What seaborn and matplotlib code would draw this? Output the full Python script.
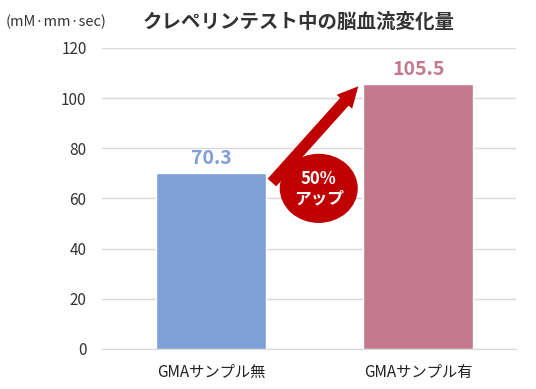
import seaborn as sns
import matplotlib.pyplot as plt
from matplotlib.patches import Ellipse

categories = ['GMAサンプル無', 'GMAサンプル有']
values = [70.3, 105.5]
bar_colors = ['#7F9FD7', '#C47A8E']
yticks = [0, 20, 40, 60, 80, 100, 120]

sns.set_style('white')
plt.rcParams['font.family'] = ['Noto Sans CJK JP', 'DejaVu Sans']

fig = plt.figure(figsize=(5.36, 3.89), dpi=100)
ax = fig.add_axes([0.190, 0.103, 0.773, 0.774])

sns.barplot(x=categories, y=values, hue=categories, palette=bar_colors,
            width=0.53, legend=False, ax=ax, saturation=1)

ax.set_ylim(0, 120)
ax.set_xlim(-0.527, 1.473)
ax.set_yticks(yticks)
ax.set_yticklabels([str(t) for t in yticks], fontsize=11, color='#333333')
ax.tick_params(axis='x', labelsize=11, colors='#222222', length=0, pad=11)
ax.tick_params(axis='y', length=0, pad=11)
ax.yaxis.grid(True, color='#D9D9D9', linewidth=1)
ax.set_axisbelow(True)
for s in ['top', 'right', 'left']:
    ax.spines[s].set_visible(False)
ax.spines['bottom'].set_color('#D9D9D9')

# value labels
for i, (v, c) in enumerate(zip(values, bar_colors)):
    ax.text(i, v + 2, f'{v:.1f}', ha='center', va='bottom', fontsize=14,
            fontweight='bold', color=c)

# arrow
ax.annotate('', xy=(0.72, 105.5), xytext=(0.285, 65.5),
            arrowprops=dict(arrowstyle='simple,head_length=1.0,head_width=1.0,tail_width=0.55',
                            color='#C00000', lw=0, mutation_scale=15))

# ellipse badge
ax.add_patch(Ellipse((0.52, 64.0), 0.37, 27, color='#C00000', zorder=5))
ax.text(0.52, 64.0, '50%\nアップ', ha='center', va='center', color='white',
        fontsize=12, fontweight='bold', linespacing=1.1, zorder=6)

fig.text(0.558, 0.943, 'クレペリンテスト中の脳血流変化量', ha='center', va='center',
         fontsize=14, fontweight='bold', color='#333333')
fig.text(0.105, 0.943, '(mM·mm·sec)', ha='center', va='center',
         fontsize=10.5, color='#333333')

fig.savefig('out.png', dpi=100)
